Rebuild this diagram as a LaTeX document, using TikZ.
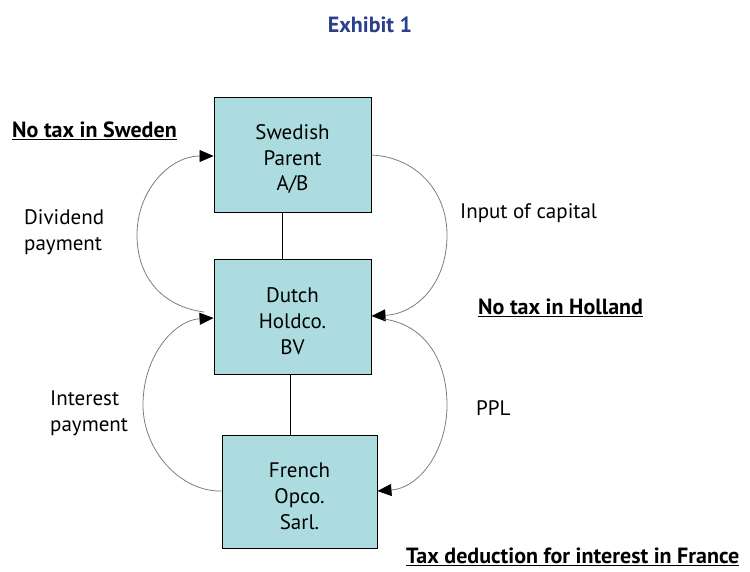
\documentclass[tikz,border=0pt]{standalone}
\usepackage{fontspec}
\setmainfont{PT Sans}
\usetikzlibrary{arrows.meta}
\definecolor{boxfill}{RGB}{172,220,224}
\definecolor{titleblue}{RGB}{43,63,143}
\definecolor{arcgray}{RGB}{125,125,125}
\newcommand{\toppad}{\rule{0pt}{24pt}}
\tikzset{
  entity/.style={draw=black, line width=0.9pt, fill=boxfill, minimum width=157pt, minimum height=115pt, align=center, font=\fontsize{21}{25.7}\selectfont, inner sep=0pt},
  lbl/.style={anchor=west, inner sep=0pt, align=left, font=\fontsize{21}{26}\selectfont},
  blbl/.style={anchor=west, inner sep=0pt, font=\fontsize{22}{26}\selectfont\bfseries},
  flow/.style={draw=arcgray, line width=0.8pt, -{Triangle[length=14pt,width=12pt,black]}},
  link/.style={draw=black, line width=0.9pt}
}
\begin{document}
\begin{tikzpicture}[x=1pt,y=-1pt]
\useasboundingbox (0,0) rectangle (750,571);
\node[font=\fontsize{22}{26}\selectfont\bfseries, text=titleblue] (title) at (370,25) {Exhibit 1};

\node[entity] (swe) at (292.5,154.5) {\toppad Swedish\\Parent\\A/B};
\node[entity] (dut) at (292.5,316.5) {\toppad Dutch\\Holdco.\\BV};
\node[entity, minimum width=155pt, minimum height=113pt] (fra) at (299.5,491.5) {\toppad French\\Opco.\\Sarl.};

\draw[link] (swe.south -| 282,0) coordinate (l1a) -- (dut.north -| 282,0) coordinate (l1b);
\draw[link] (dut.south -| 290,0) coordinate (l2a) -- (fra.north -| 290,0) coordinate (l2b);

\coordinate (t1) at (204,312);
\coordinate (t4) at (384,319);

% Dividend payment
\draw[flow] (t1) .. controls (160,306) and (137,275) .. (137,235) .. controls (137,190) and (170,156) .. (swe.west |- 0,156);
% Interest payment
\draw[flow] (fra.west |- 0,491) .. controls (180,492) and (143,450) .. (143,405) .. controls (143,355) and (175,320) .. (dut.west |- 0,318);
% Input of capital
\draw[flow] (swe.east |- 0,155) .. controls (415,157) and (447,190) .. (447,235) .. controls (447,285) and (415,314) .. (dut.east |- 0,316);
% PPL
\draw[flow] (t4) .. controls (425,325) and (447,360) .. (447,405) .. controls (447,450) and (420,488) .. (fra.east |- 0,491);

\node[blbl] (swtax) at (12,131) {\underline{No tax in Sweden}};
\node[lbl] (div) at (24,232) {Dividend\\payment};
\node[lbl] (inp) at (460,213) {Input of capital};
\node[blbl] (hotax) at (478,308) {\underline{No tax in Holland}};
\node[lbl] (int) at (50,413) {Interest\\payment};
\node[lbl] (ppl) at (476,408) {PPL};
\node[blbl] (frtax) at (406,557) {\underline{Tax deduction for interest in France}};
\end{tikzpicture}
\end{document}
